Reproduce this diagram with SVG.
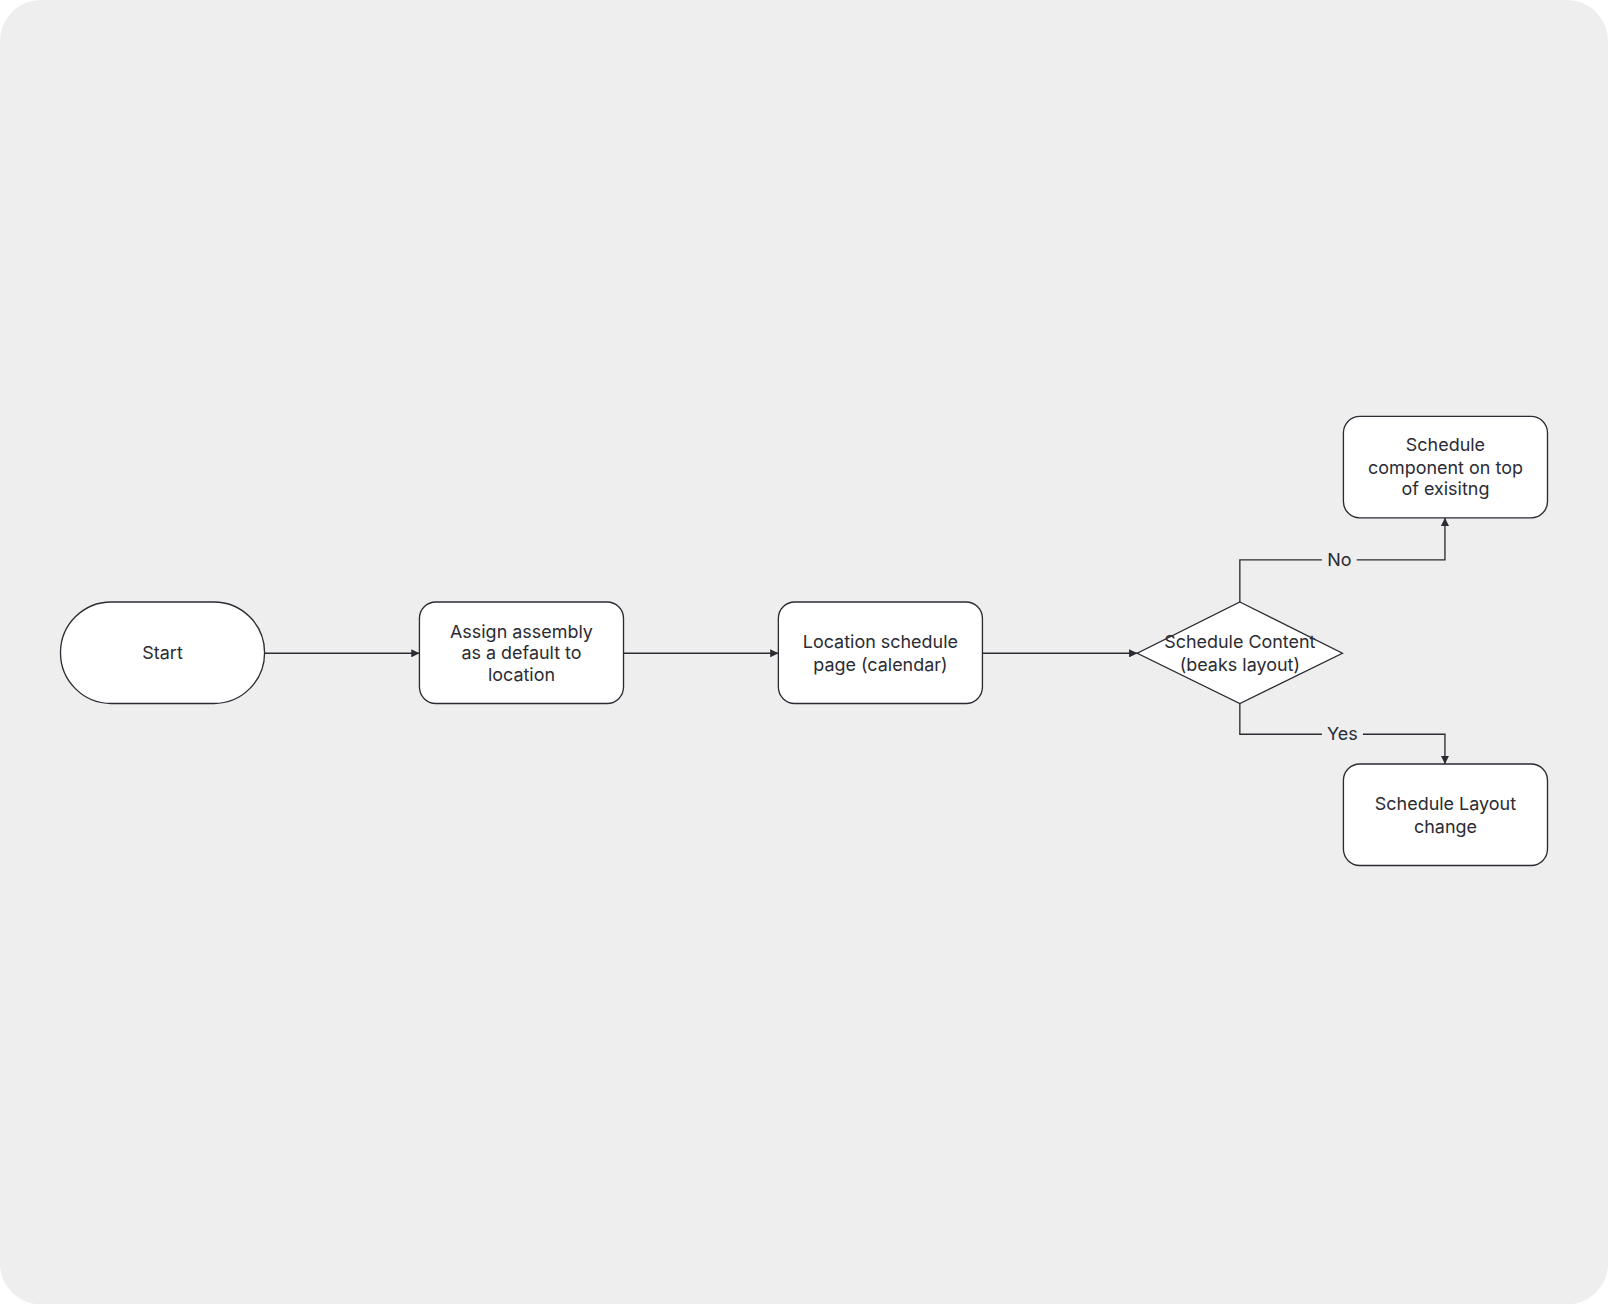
<svg xmlns="http://www.w3.org/2000/svg" width="1608" height="1304" viewBox="0 0 1608 1304">
<defs>
<style>
.n{fill:#fff;stroke:#2b2b33;stroke-width:1.3}
.t{font-family:Inter,"Liberation Sans",sans-serif;font-size:17.5px;fill:#2b2b33;text-anchor:middle}
.c{fill:none;stroke:#2b2b33;stroke-width:1.3}
</style>
<marker id="a" viewBox="0 0 10 10" refX="10" refY="5" markerWidth="8" markerHeight="8" markerUnits="userSpaceOnUse" orient="auto"><path d="M0,0L10,5L0,10z" fill="#2b2b33"/></marker>
</defs>
<rect width="1608" height="1304" fill="#ffffff"/>
<g transform="scale(1.02551)">
<rect x="0" y="0" width="1568" height="1272" rx="40" fill="#eeeeee"/>
<g id="connectors">
<path class="c" d="M258,637H409" marker-end="url(#a)"/>
<path class="c" d="M608,637H759" marker-end="url(#a)"/>
<path class="c" d="M958,637H1109" marker-end="url(#a)"/>
<path class="c" d="M1209,587V546H1409V505" marker-end="url(#a)"/>
<path class="c" d="M1209,686V716H1409V745" marker-end="url(#a)"/>
<rect x="1289" y="535" width="34" height="22" fill="#eeeeee"/>
<text class="t" x="1306" y="552">No</text>
<rect x="1289" y="705" width="40" height="22" fill="#eeeeee"/>
<text class="t" x="1309" y="722">Yes</text>
</g>
<g id="start"><rect class="n" x="59" y="587" width="199" height="99" rx="49.5"/><text class="t" x="158.5" y="643">Start</text></g>
<g id="assign"><rect class="n" x="409" y="587" width="199" height="99" rx="16"/><text class="t" x="508.5" y="622">Assign assembly</text><text class="t" x="508.5" y="643">as a default to</text><text class="t" x="508.5" y="664">location</text></g>
<g id="location"><rect class="n" x="759" y="587" width="199" height="99" rx="16"/><text class="t" x="858.5" y="632">Location schedule</text><text class="t" x="858.5" y="654">page (calendar)</text></g>
<g id="decision"><path class="n" d="M1209,587L1309,637L1209,686L1109,637Z"/><text class="t" x="1209" y="632">Schedule Content</text><text class="t" x="1209" y="654">(beaks layout)</text></g>
<g id="top"><rect class="n" x="1310" y="406" width="199" height="99" rx="16"/><text class="t" x="1409.5" y="440">Schedule</text><text class="t" x="1409.5" y="462">component on top</text><text class="t" x="1409.5" y="483">of exisitng</text></g>
<g id="bottom"><rect class="n" x="1310" y="745" width="199" height="99" rx="16"/><text class="t" x="1409.5" y="790">Schedule Layout</text><text class="t" x="1409.5" y="812">change</text></g>
</g>
</svg>
